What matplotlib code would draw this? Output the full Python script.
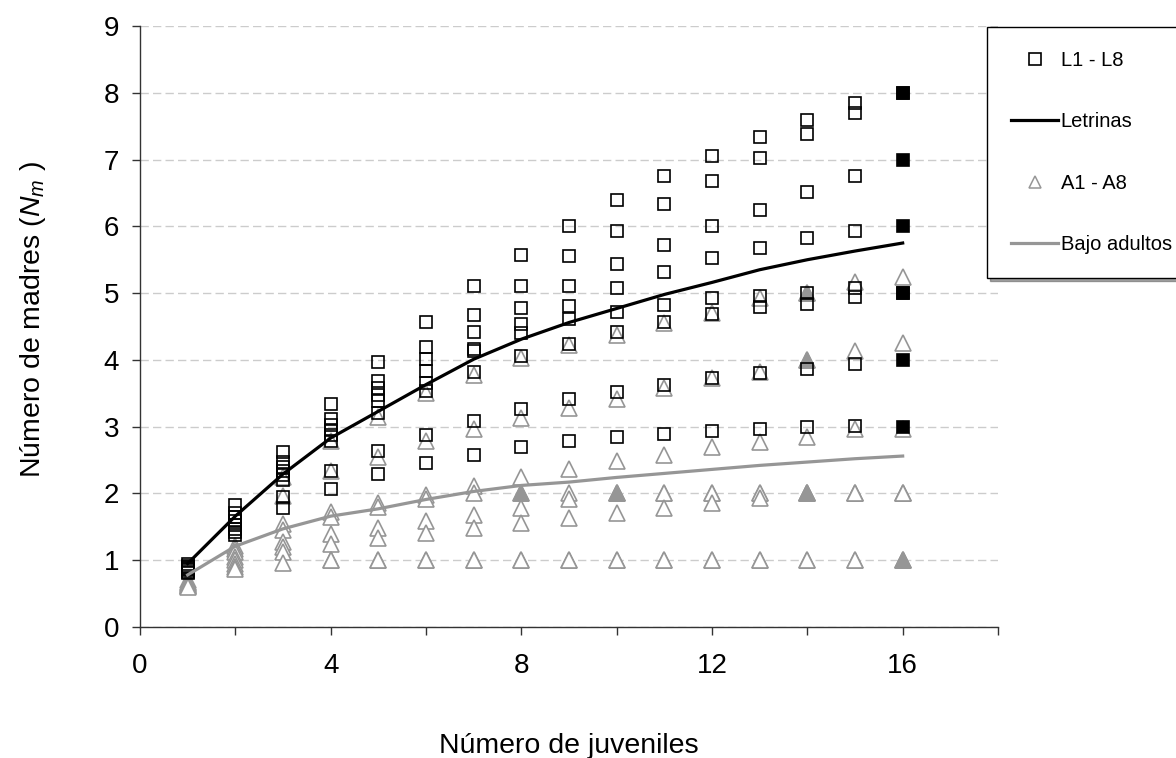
import numpy as np
import matplotlib
matplotlib.use('Agg')
import matplotlib.pyplot as plt
from matplotlib.lines import Line2D

plt.rcParams['font.family'] = ['Liberation Sans', 'DejaVu Sans']
plt.rcParams['mathtext.fontset'] = 'custom'
plt.rcParams['mathtext.it'] = 'Liberation Sans:italic'
plt.rcParams['mathtext.rm'] = 'Liberation Sans'

# number of juveniles sampled
juveniles = np.arange(1, 17)

# letrinas L1 - L8, open squares for x = 1..15 (sorted high to low at each x)
L_r1 = [0.94, 1.83, 2.62, 3.34, 3.97, 4.57, 5.10, 5.57, 6.01, 6.40, 6.75, 7.06, 7.34, 7.59, 7.85]
L_r2 = [0.92, 1.70, 2.47, 3.12, 3.69, 4.19, 4.67, 5.11, 5.55, 5.93, 6.33, 6.68, 7.03, 7.38, 7.69]
L_r3 = [0.90, 1.64, 2.40, 3.03, 3.58, 4.01, 4.42, 4.78, 5.11, 5.43, 5.72, 6.00, 6.25, 6.52, 6.76]
L_r4 = [0.88, 1.58, 2.33, 2.95, 3.48, 3.83, 4.16, 4.53, 4.80, 5.07, 5.32, 5.52, 5.68, 5.82, 5.93]
L_r5 = [0.87, 1.52, 2.27, 2.88, 3.39, 3.65, 4.13, 4.41, 4.61, 4.72, 4.82, 4.92, 4.95, 5.00, 5.07]
L_r6 = [0.85, 1.47, 2.20, 2.78, 3.21, 3.54, 3.82, 4.06, 4.24, 4.42, 4.56, 4.68, 4.79, 4.84, 4.94]
L_r7 = [0.83, 1.42, 1.95, 2.33, 2.64, 2.88, 3.08, 3.26, 3.41, 3.52, 3.63, 3.73, 3.80, 3.87, 3.94]
L_r8 = [0.81, 1.38, 1.78, 2.07, 2.29, 2.46, 2.58, 2.70, 2.78, 2.85, 2.89, 2.93, 2.97, 2.99, 3.01]
# final values at 16 juveniles (filled squares)
L_final = [8, 8, 7, 6, 5, 5, 4, 3]

# bajo adultos A1 - A8, open triangles for x = 1..16
A_r1 = [0.70, 1.22, 2.25, 2.78, 3.15, 3.50, 3.78, 4.03, 4.22, 4.38, 4.55, 4.70, 4.92, 5.00, 5.16, 5.24]
A_r2 = [0.68, 1.17, 1.96, 2.33, 2.55, 2.78, 2.96, 3.13, 3.28, 3.42, 3.58, 3.73, 3.82, 4.00, 4.13, 4.25]
A_r3 = [0.66, 1.12, 1.54, 1.72, 1.86, 1.98, 2.11, 2.24, 2.36, 2.48, 2.58, 2.69, 2.77, 2.85, 2.97, 2.97]
A_r4 = [0.65, 1.05, 1.45, 1.65, 1.80, 1.91, 2.00, 2.00, 2.00, 2.00, 2.00, 2.00, 2.00, 2.00, 2.00, 2.00]
A_r5 = [0.63, 1.00, 1.28, 1.40, 1.48, 1.58, 1.68, 1.78, 1.91, 2.00, 2.00, 2.00, 2.00, 2.00, 2.00, 2.00]
A_r6 = [0.62, 0.95, 1.20, 1.25, 1.33, 1.41, 1.48, 1.56, 1.63, 1.70, 1.78, 1.85, 1.93, 2.00, 2.00, 2.00]
A_r7 = [0.61, 0.90, 1.13, 1.00, 1.00, 1.00, 1.00, 1.00, 1.00, 1.00, 1.00, 1.00, 1.00, 1.00, 1.00, 1.00]
A_r8 = [0.60, 0.87, 0.96, 1.00, 1.00, 1.00, 1.00, 1.00, 1.00, 1.00, 1.00, 1.00, 1.00, 1.00, 1.00, 1.00]
# filled triangles
A_filled_x = [8, 10, 14, 14, 14, 16]
A_filled_y = [2, 2, 5, 4, 2, 1]

# fitted curves
letrinas = [0.95, 1.66, 2.29, 2.83, 3.23, 3.63, 4.01, 4.31, 4.56, 4.77, 4.98, 5.16, 5.35, 5.50, 5.63, 5.75]
bajo_adultos = [0.78, 1.21, 1.47, 1.66, 1.77, 1.91, 2.03, 2.12, 2.17, 2.24, 2.30, 2.36, 2.42, 2.47, 2.52, 2.56]

gray = '#969696'

fig = plt.figure(figsize=(11.76, 7.58), dpi=100)
ax = fig.add_axes([140/1176, 1 - 627/758, 858/1176, 601/758])

for a in [A_r1, A_r2, A_r3, A_r4, A_r5, A_r6, A_r7, A_r8]:
	ax.plot(juveniles, a, linestyle='none', marker='^', ms=11, mfc='white',
			mec=gray, mew=1.2, zorder=2)
ax.plot(A_filled_x, A_filled_y, linestyle='none', marker='^', ms=11,
		mfc=gray, mec=gray, mew=1.2, zorder=2.5)

for l in [L_r1, L_r2, L_r3, L_r4, L_r5, L_r6, L_r7, L_r8]:
	ax.plot(juveniles[:15], l, linestyle='none', marker='s', ms=8.6, mfc='none',
			mec='black', mew=1.2, zorder=3)
ax.plot(np.full(len(L_final), juveniles[-1]), L_final, linestyle='none', marker='s',
		ms=8.6, mfc='black', mec='black', mew=1.2, zorder=3)

ax.plot(juveniles, letrinas, color='black', lw=2.3, zorder=4)
ax.plot(juveniles, bajo_adultos, color=gray, lw=2.3, zorder=4)

ax.set_xlim(0, 18)
ax.set_ylim(0, 9)
ax.set_xticks(np.arange(0, 19, 2))
ax.set_xticklabels([str(v) if v % 4 == 0 and v <= 16 else '' for v in range(0, 19, 2)])
ax.set_yticks(np.arange(0, 10, 1))
ax.yaxis.grid(True, color='#cccccc', linestyle=(0, (6, 3)), lw=1)
ax.set_axisbelow(True)
for s in ['top', 'right']:
	ax.spines[s].set_visible(False)
for s in ['left', 'bottom']:
	ax.spines[s].set_linewidth(1)
	ax.spines[s].set_color('#333333')
ax.tick_params(axis='both', direction='out', length=6, width=1, color='#333333', labelsize=20)
ax.tick_params(axis='x', pad=13)
ax.tick_params(axis='y', pad=9)

ax.set_xlabel('Número de juveniles', fontsize=20.5)
ax.xaxis.set_label_coords(0.5, -0.176)
ax.set_ylabel('Número de madres ($N_m$ )', fontsize=20.5)
ax.yaxis.set_label_coords(-0.107, 0.511)

handles = [
	Line2D([], [], linestyle='none', marker='s', ms=8, mfc='none', mec='black', mew=1.2),
	Line2D([], [], color='black', lw=2.3),
	Line2D([], [], linestyle='none', marker='^', ms=8.5, mfc='white', mec=gray, mew=1.1),
	Line2D([], [], color=gray, lw=2.3),
]
labels = ['L1 - L8', 'Letrinas', 'A1 - A8', 'Bajo adultos']
leg = fig.legend(handles, labels, loc='upper left', bbox_to_anchor=(987/1176, 1 - 27/758),
				 fontsize=14.5, frameon=True, fancybox=False, shadow=True, edgecolor='black',
				 labelspacing=2.1, borderpad=1.2, handlelength=2.35, handletextpad=0.1,
				 borderaxespad=0)
leg.get_frame().set_linewidth(1)

plt.savefig('out.png', dpi=100)
